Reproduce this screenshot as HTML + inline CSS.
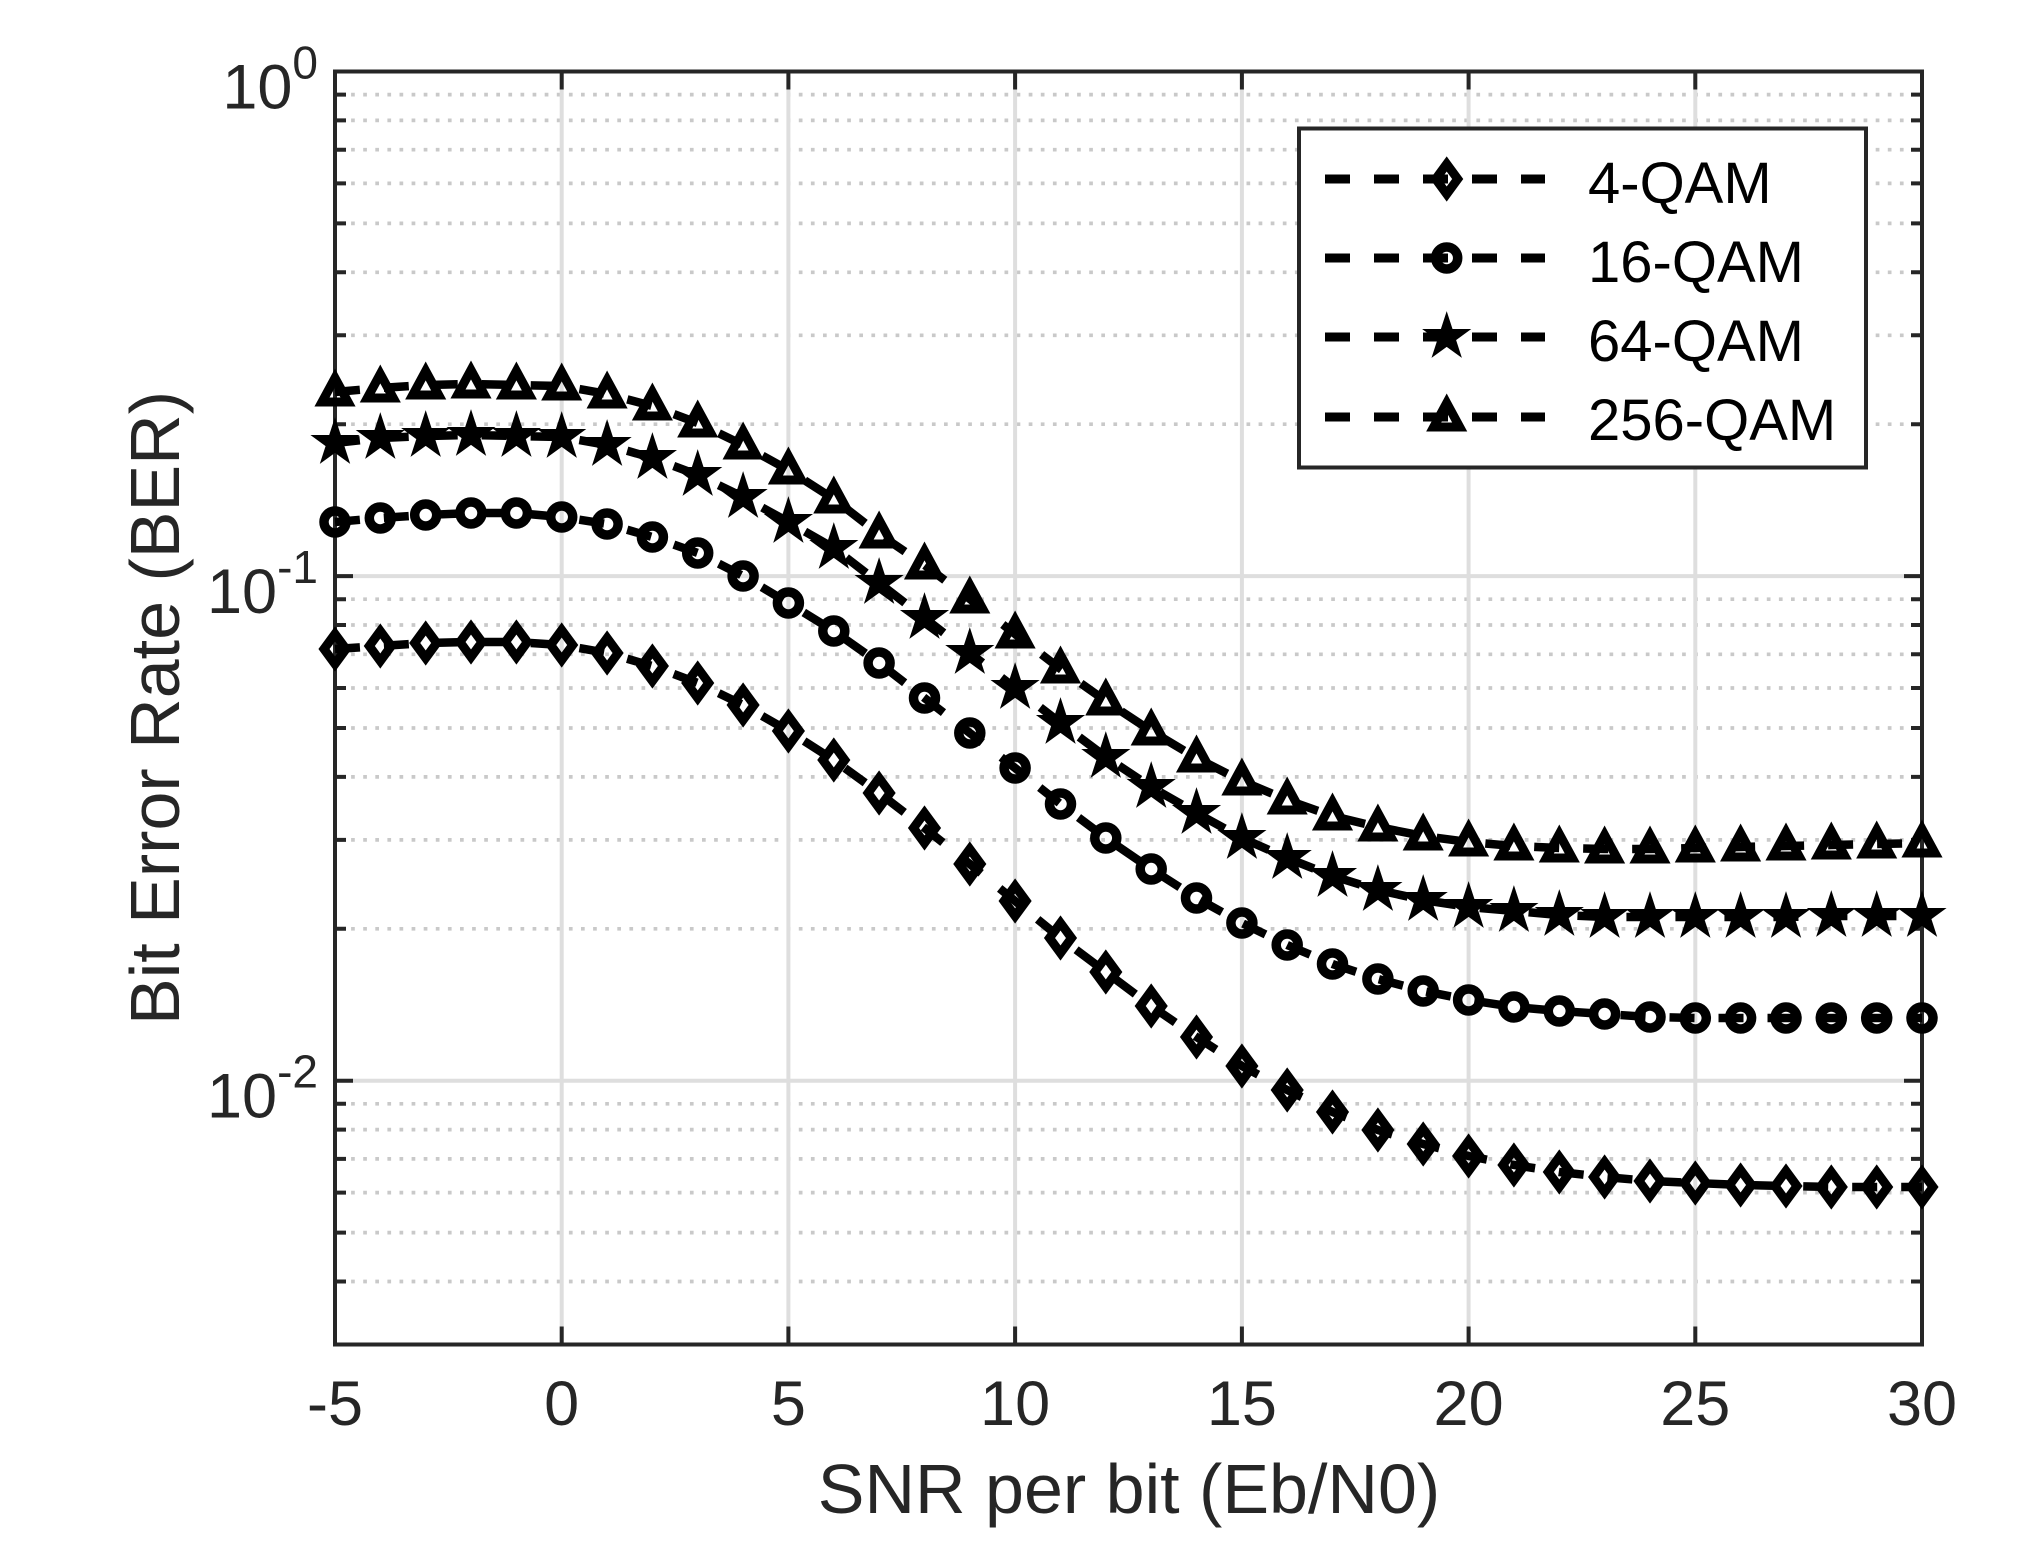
<!DOCTYPE html>
<html>
<head>
<meta charset="utf-8">
<style>
  html, body { margin: 0; padding: 0; background: #ffffff; }
  svg { display: block; }
  text { font-family: "Liberation Sans", Arial, sans-serif; }
</style>
</head>
<body>
<svg width="2043" height="1560" viewBox="0 0 2043 1560" xmlns="http://www.w3.org/2000/svg">
  <defs>
    <marker id="mDia" viewBox="-30 -30 60 60" markerWidth="60" markerHeight="60" refX="0" refY="0" markerUnits="userSpaceOnUse" orient="0" overflow="visible">
      <path d="M0,-15 L11,0 L0,15 L-11,0 Z" fill="none" stroke="#000" stroke-width="9" stroke-linejoin="miter"/>
    </marker>
    <marker id="mCir" viewBox="-30 -30 60 60" markerWidth="60" markerHeight="60" refX="0" refY="0" markerUnits="userSpaceOnUse" orient="0" overflow="visible">
      <circle cx="0" cy="0" r="11" fill="none" stroke="#000" stroke-width="9.5"/>
    </marker>
    <marker id="mStar" viewBox="-30 -30 60 60" markerWidth="60" markerHeight="60" refX="0" refY="0" markerUnits="userSpaceOnUse" orient="0" overflow="visible">
      <polygon points="0,-21 4.71,-6.49 19.97,-6.49 7.63,2.48 12.34,16.99 0,8.02 -12.34,16.99 -7.63,2.48 -19.97,-6.49 -4.71,-6.49" fill="#000" stroke="#000" stroke-width="3" stroke-linejoin="miter"/>
    </marker>
    <marker id="mTri" viewBox="-30 -30 60 60" markerWidth="60" markerHeight="60" refX="0" refY="0" markerUnits="userSpaceOnUse" orient="0" overflow="visible">
      <path d="M0,-14 L13,10 L-13,10 Z" fill="none" stroke="#000" stroke-width="9" stroke-linejoin="miter"/>
    </marker>
  </defs>

  <rect x="0" y="0" width="2043" height="1560" fill="#ffffff"/>

  <!-- minor grid (dotted) -->
  <g stroke="#c9c9c9" stroke-width="3.7" stroke-dasharray="3.7 8.4" fill="none">
    <path d="M339,94.6H1918 M339,120.4H1918 M339,149.7H1918 M339,183.4H1918 M339,223.4H1918 M339,272.3H1918 M339,335.3H1918 M339,424.2H1918
             M339,599.2H1918 M339,625H1918 M339,654.3H1918 M339,688H1918 M339,728H1918 M339,776.9H1918 M339,839.9H1918 M339,928.8H1918
             M339,1103.8H1918 M339,1129.6H1918 M339,1158.9H1918 M339,1192.6H1918 M339,1232.6H1918 M339,1281.5H1918"/>
  </g>

  <!-- major grid -->
  <g stroke="#dedede" stroke-width="4" fill="none">
    <path d="M561.7,73V1343 M788.4,73V1343 M1015.1,73V1343 M1241.9,73V1343 M1468.6,73V1343 M1695.3,73V1343
             M337,576.1H1920 M337,1080.7H1920"/>
  </g>

  <!-- ticks -->
  <g stroke="#262626" stroke-width="4" fill="none">
    <!-- major y ticks -->
    <path d="M335,576.1H353 M335,1080.7H353 M1922,576.1H1904 M1922,1080.7H1904"/>
    <!-- minor y ticks left -->
    <path d="M335,94.6H346 M335,120.4H346 M335,149.7H346 M335,183.4H346 M335,223.4H346 M335,272.3H346 M335,335.3H346 M335,424.2H346
             M335,599.2H346 M335,625H346 M335,654.3H346 M335,688H346 M335,728H346 M335,776.9H346 M335,839.9H346 M335,928.8H346
             M335,1103.8H346 M335,1129.6H346 M335,1158.9H346 M335,1192.6H346 M335,1232.6H346 M335,1281.5H346"/>
    <!-- minor y ticks right -->
    <path d="M1922,94.6H1911 M1922,120.4H1911 M1922,149.7H1911 M1922,183.4H1911 M1922,223.4H1911 M1922,272.3H1911 M1922,335.3H1911 M1922,424.2H1911
             M1922,599.2H1911 M1922,625H1911 M1922,654.3H1911 M1922,688H1911 M1922,728H1911 M1922,776.9H1911 M1922,839.9H1911 M1922,928.8H1911
             M1922,1103.8H1911 M1922,1129.6H1911 M1922,1158.9H1911 M1922,1192.6H1911 M1922,1232.6H1911 M1922,1281.5H1911"/>
    <!-- x ticks bottom & top -->
    <path d="M561.7,1344.5V1326.5 M788.4,1344.5V1326.5 M1015.1,1344.5V1326.5 M1241.9,1344.5V1326.5 M1468.6,1344.5V1326.5 M1695.3,1344.5V1326.5
             M561.7,71.5V89.5 M788.4,71.5V89.5 M1015.1,71.5V89.5 M1241.9,71.5V89.5 M1468.6,71.5V89.5 M1695.3,71.5V89.5"/>
  </g>

  <!-- axes box -->
  <rect x="335" y="71.5" width="1587" height="1273" fill="none" stroke="#262626" stroke-width="4"/>

  <!-- series -->
  <g fill="none" stroke="#000" stroke-width="8.5" stroke-dasharray="25 24">
    <polyline marker-start="url(#mDia)" marker-mid="url(#mDia)" marker-end="url(#mDia)"
      points="335,649 380.3,646 425.7,643 471,642 516.4,642 561.7,645 607.1,653 652.4,666 697.7,683 743.1,705 788.4,731 833.8,760 879.1,793 924.5,828 969.8,864 1015.1,901 1060.5,938 1105.8,972 1151.2,1006 1196.5,1037 1241.9,1066 1287.2,1090 1332.5,1112 1377.9,1130 1423.2,1144 1468.6,1156 1513.9,1165 1559.3,1172 1604.6,1177 1650,1181 1695.3,1183 1740.6,1185 1786,1186 1831.3,1187 1876.7,1187 1922,1187"/>
    <polyline marker-start="url(#mCir)" marker-mid="url(#mCir)" marker-end="url(#mCir)"
      points="335,522 380.3,518 425.7,515 471,513 516.4,513 561.7,517 607.1,524 652.4,537 697.7,553 743.1,576 788.4,603 833.8,631 879.1,663 924.5,698 969.8,733 1015.1,768 1060.5,804 1105.8,838 1151.2,869 1196.5,898 1241.9,923 1287.2,945 1332.5,964 1377.9,979 1423.2,991 1468.6,1000 1513.9,1007 1559.3,1011 1604.6,1014 1650,1017 1695.3,1018 1740.6,1018 1786,1018 1831.3,1018 1876.7,1018 1922,1018"/>
    <polyline marker-start="url(#mStar)" marker-mid="url(#mStar)" marker-end="url(#mStar)"
      points="335,443 380.3,438 425.7,436 471,435 516.4,436 561.7,437 607.1,445 652.4,458 697.7,475 743.1,497 788.4,522 833.8,548 879.1,583 924.5,618 969.8,653 1015.1,688 1060.5,723 1105.8,757 1151.2,787 1196.5,813 1241.9,838 1287.2,858 1332.5,876 1377.9,890 1423.2,900 1468.6,907 1513.9,911 1559.3,915 1604.6,917 1650,917 1695.3,917 1740.6,917 1786,917 1831.3,916 1876.7,916 1922,916"/>
    <polyline marker-start="url(#mTri)" marker-mid="url(#mTri)" marker-end="url(#mTri)"
      points="335,392 380.3,388 425.7,385 471,384 516.4,385 561.7,386 607.1,394 652.4,406 697.7,423 743.1,445 788.4,470 833.8,499 879.1,534 924.5,565 969.8,599 1015.1,634 1060.5,669 1105.8,701 1151.2,731 1196.5,758 1241.9,781 1287.2,800 1332.5,816 1377.9,827 1423.2,836 1468.6,842 1513.9,846 1559.3,848 1604.6,849 1650,849 1695.3,848 1740.6,847 1786,846 1831.3,845 1876.7,844 1922,843"/>
  </g>

  <!-- legend -->
  <rect x="1299" y="128.5" width="567" height="339" fill="#ffffff" stroke="#262626" stroke-width="4"/>
  <g fill="none" stroke="#000" stroke-width="9" stroke-dasharray="25 24">
    <path d="M1325,179H1545"/>
    <path d="M1325,258H1545"/>
    <path d="M1325,337H1545"/>
    <path d="M1325,417H1545"/>
  </g>
  <path d="M1446.7,164 L1457.7,179 L1446.7,194 L1435.7,179 Z" fill="none" stroke="#000" stroke-width="9" stroke-linejoin="miter"/>
  <circle cx="1446.7" cy="258" r="11" fill="none" stroke="#000" stroke-width="9.5"/>
  <polygon transform="translate(1446.7,337)" points="0,-21 4.71,-6.49 19.97,-6.49 7.63,2.48 12.34,16.99 0,8.02 -12.34,16.99 -7.63,2.48 -19.97,-6.49 -4.71,-6.49" fill="#000" stroke="#000" stroke-width="3"/>
  <path transform="translate(1446.7,417)" d="M0,-14 L13,10 L-13,10 Z" fill="none" stroke="#000" stroke-width="9" stroke-linejoin="miter"/>
  <g font-size="58" fill="#000">
    <text x="1588" y="203">4-QAM</text>
    <text x="1588" y="282">16-QAM</text>
    <text x="1588" y="361">64-QAM</text>
    <text x="1588" y="440">256-QAM</text>
  </g>

  <!-- x tick labels -->
  <g font-size="63" fill="#262626" text-anchor="middle">
    <text x="335" y="1425">-5</text>
    <text x="561.7" y="1425">0</text>
    <text x="788.4" y="1425">5</text>
    <text x="1015.1" y="1425">10</text>
    <text x="1241.9" y="1425">15</text>
    <text x="1468.6" y="1425">20</text>
    <text x="1695.3" y="1425">25</text>
    <text x="1922" y="1425">30</text>
  </g>

  <!-- y tick labels -->
  <g font-size="63" fill="#262626" text-anchor="end">
    <text x="318" y="108.5">10<tspan font-size="46" dy="-30">0</tspan></text>
    <text x="318" y="613">10<tspan font-size="46" dy="-30">-1</tspan></text>
    <text x="318" y="1117.7">10<tspan font-size="46" dy="-30">-2</tspan></text>
  </g>

  <!-- axis labels -->
  <text x="1129" y="1513" font-size="70" fill="#262626" text-anchor="middle">SNR per bit (Eb/N0)</text>
  <text transform="translate(179,708) rotate(-90)" font-size="70" fill="#262626" text-anchor="middle">Bit Error Rate (BER)</text>
</svg>
</body>
</html>
